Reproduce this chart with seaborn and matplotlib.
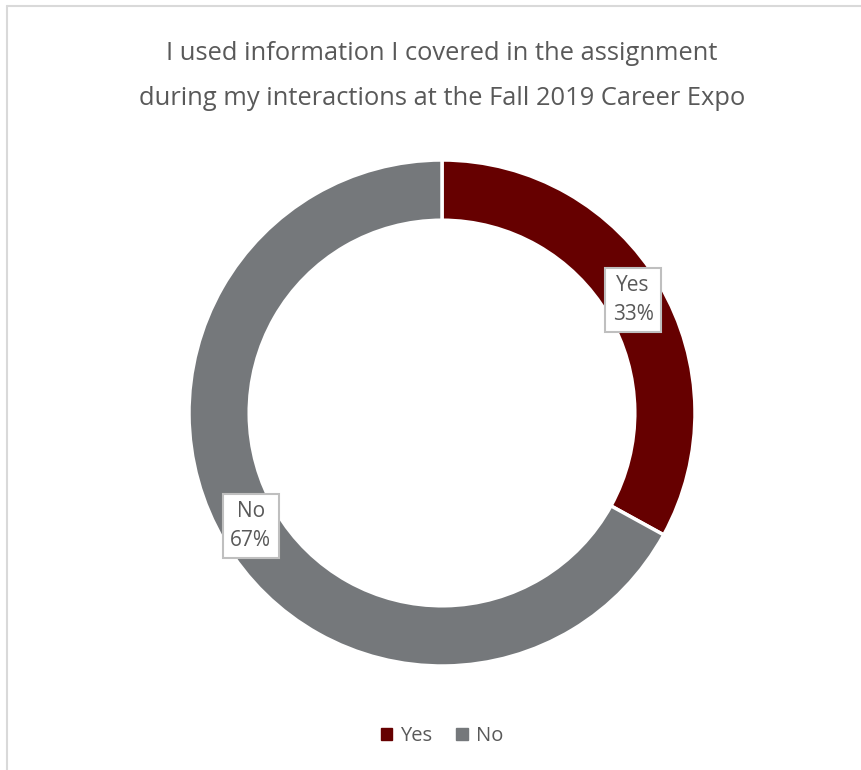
import matplotlib
matplotlib.use('Agg')
import matplotlib.pyplot as plt
from matplotlib.lines import Line2D
from matplotlib.patches import Patch
import seaborn as sns
import numpy as np

# survey answers
categories = ['Yes', 'No']
shares = [33, 67]
colors = ['#660000', '#75787B']
title = 'I used information I covered in the assignment\nduring my interactions at the Fall 2019 Career Expo'

sns.set_theme(style='white')
plt.rcParams['font.family'] = ['Open Sans', 'DejaVu Sans']

W, H = 862, 770
fig = plt.figure(figsize=(W / 100, H / 100), dpi=100)
ax = fig.add_axes([0, 0, 1, 1])

# chart frame (top and left edge visible)
fig.add_artist(Line2D([7 / W, 1], [1 - 6 / H, 1 - 6 / H], color='#D9D9D9', lw=1.5))
fig.add_artist(Line2D([7 / W, 7 / W], [0, 1 - 6 / H], color='#D9D9D9', lw=1.5))

cx, cy, R = 442, H - 413, 253
wedges, _ = ax.pie(shares, colors=colors, startangle=90, counterclock=False,
                   center=(cx, cy), radius=R,
                   wedgeprops=dict(width=R * 0.238, edgecolor='white', linewidth=2.5))
# pie resets the limits, so set them afterwards
ax.set_xlim(0, W)
ax.set_ylim(0, H)
ax.set_aspect('equal')
ax.axis('off')

# data labels at the middle of each ring segment
for w, cat, val in zip(wedges, categories, shares):
    ang = np.deg2rad((w.theta1 + w.theta2) / 2)
    r = R * 0.878
    ax.text(cx + r * np.cos(ang), cy + r * np.sin(ang), f'{cat}\n{val}%',
            ha='center', va='center', fontsize=15, color='#595959', linespacing=1.5,
            bbox=dict(boxstyle='square,pad=0.35', fc='white', ec='#BFBFBF', lw=1.5))

fig.text(442 / W, 1 - 76 / H, title, ha='center', va='center', fontsize=18.4,
         color='#595959', linespacing=2.05)

handles = [Patch(color=c, label=l) for c, l in zip(colors, categories)]
fig.legend(handles=handles, loc='center', bbox_to_anchor=(442 / W, 1 - 736 / H), ncol=2,
           frameon=False, fontsize=14.5, handlelength=0.55, handleheight=0.55,
           handletextpad=0.4, columnspacing=1.2, labelcolor='#595959')

fig.savefig('out.png', dpi=100)
